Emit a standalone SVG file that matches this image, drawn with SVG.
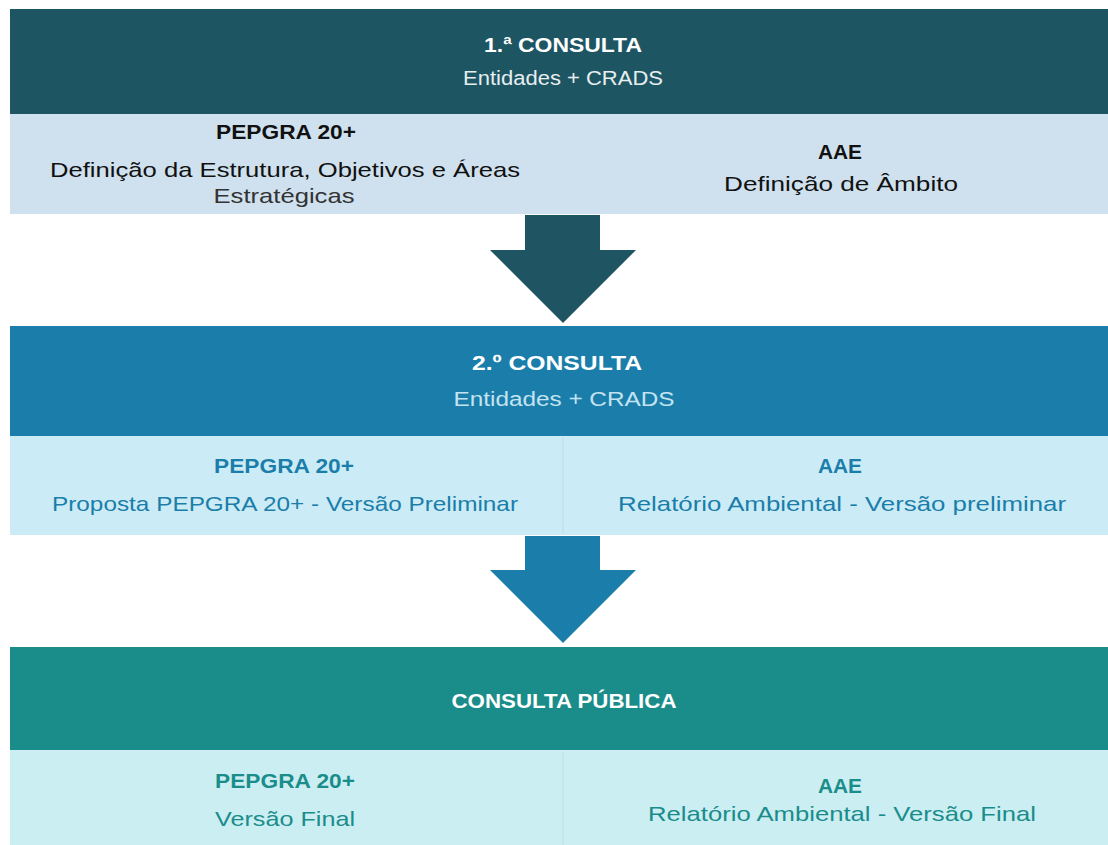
<svg xmlns="http://www.w3.org/2000/svg" width="1108" height="845" viewBox="0 0 1108 845">
<style>
text{font-family:"Liberation Sans",Arial,sans-serif;text-anchor:middle}
.h{font-size:20px;font-weight:bold;fill:#ffffff}
.s{font-size:20px}
.b{font-size:20px;font-weight:bold}
.t{font-size:21px}
</style>
<rect x="0" y="0" width="1108" height="845" fill="#ffffff"/>
<g id="stage1">
<rect x="10" y="9" width="1098" height="105" fill="#1e5563"/>
<rect x="10" y="114" width="1098" height="100" fill="#cfe1ee"/>
<text class="h" x="563" y="52" textLength="158" lengthAdjust="spacingAndGlyphs">1.ª CONSULTA</text>
<text class="s" x="563" y="85" fill="#e6eef0" textLength="200" lengthAdjust="spacingAndGlyphs">Entidades + CRADS</text>
<text class="b" x="286" y="139" fill="#111" textLength="140" lengthAdjust="spacingAndGlyphs">PEPGRA 20+</text>
<text class="t" x="285" y="177" fill="#111" textLength="470" lengthAdjust="spacingAndGlyphs">Definição da Estrutura, Objetivos e Áreas</text>
<text class="t" x="284" y="203" fill="#333" textLength="141" lengthAdjust="spacingAndGlyphs">Estratégicas</text>
<text class="b" x="840" y="159" fill="#111" textLength="44" lengthAdjust="spacingAndGlyphs">AAE</text>
<text class="t" x="841" y="191" fill="#111" textLength="234" lengthAdjust="spacingAndGlyphs">Definição de Âmbito</text>
</g>
<g id="stage2">
<rect x="10" y="326" width="1098" height="110" fill="#1b7eaa"/>
<rect x="10" y="436" width="1098" height="99" fill="#cbecf6"/>
<line x1="563" y1="438" x2="563" y2="534" stroke="#b9dde8" stroke-width="1"/>
<text class="h" x="557" y="370" textLength="170" lengthAdjust="spacingAndGlyphs">2.º CONSULTA</text>
<text class="s" x="564" y="406" fill="#c3e3f1" textLength="221" lengthAdjust="spacingAndGlyphs">Entidades + CRADS</text>
<text class="b" x="284" y="473" fill="#1b7eaa" textLength="140" lengthAdjust="spacingAndGlyphs">PEPGRA 20+</text>
<text class="t" x="285" y="511" fill="#1b7eaa" textLength="466" lengthAdjust="spacingAndGlyphs">Proposta PEPGRA 20+ - Versão Preliminar</text>
<text class="b" x="840" y="473" fill="#1b7eaa" textLength="44" lengthAdjust="spacingAndGlyphs">AAE</text>
<text class="t" x="842" y="511" fill="#1b7eaa" textLength="448" lengthAdjust="spacingAndGlyphs">Relatório Ambiental - Versão preliminar</text>
</g>
<g id="stage3">
<rect x="10" y="647" width="1098" height="103" fill="#1a8d8b"/>
<rect x="10" y="750" width="1098" height="95" fill="#cbeef3"/>
<line x1="563" y1="752" x2="563" y2="845" stroke="#b9e0e6" stroke-width="1"/>
<text class="h" x="564" y="708" textLength="225" lengthAdjust="spacingAndGlyphs">CONSULTA PÚBLICA</text>
<text class="b" x="285" y="788" fill="#1a8d8b" textLength="140" lengthAdjust="spacingAndGlyphs">PEPGRA 20+</text>
<text class="t" x="285" y="826" fill="#1a8d8b" textLength="140" lengthAdjust="spacingAndGlyphs">Versão Final</text>
<text class="b" x="840" y="793" fill="#1a8d8b" textLength="44" lengthAdjust="spacingAndGlyphs">AAE</text>
<text class="t" x="842" y="821" fill="#1a8d8b" textLength="388" lengthAdjust="spacingAndGlyphs">Relatório Ambiental - Versão Final</text>
</g>
<g id="connectors">
<polygon points="525,215 600,215 600,250 636,250 563,323 490,250 525,250" fill="#1f5563"/>
<polygon points="525,536 600,536 600,570 636,570 563,643 490,570 525,570" fill="#1b7eaa"/>
</g>
</svg>
